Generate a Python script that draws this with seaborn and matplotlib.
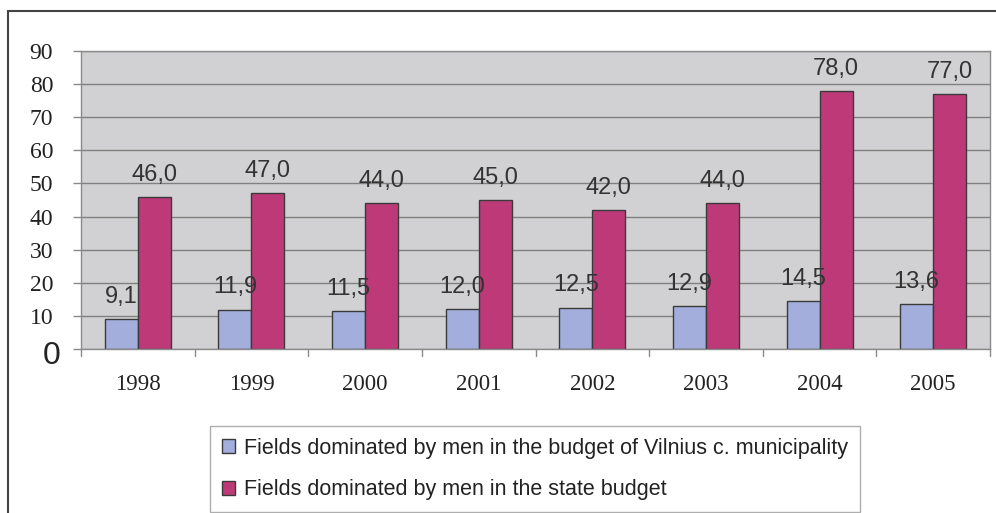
import matplotlib
matplotlib.use("Agg")
import matplotlib.pyplot as plt
import seaborn as sns
import pandas as pd
from matplotlib.patches import Rectangle

years = ["1998", "1999", "2000", "2001", "2002", "2003", "2004", "2005"]
municipal = [9.1, 11.9, 11.5, 12.0, 12.5, 12.9, 14.5, 13.6]
state = [46.0, 47.0, 44.0, 45.0, 42.0, 44.0, 78.0, 77.0]
series_names = [
    "Fields dominated by men in the budget of Vilnius c. municipality",
    "Fields dominated by men in the state budget",
]
y_ticks = [0, 10, 20, 30, 40, 50, 60, 70, 80, 90]

df = pd.DataFrame({
    "year": years * 2,
    "value": municipal + state,
    "series": [series_names[0]] * len(years) + [series_names[1]] * len(years),
})

sns.set_theme(style="white")
plt.rcParams["font.family"] = ["Liberation Sans", "DejaVu Sans"]

fig = plt.figure(figsize=(9.96, 5.13), dpi=100)
fig.patch.set_facecolor("white")
ax = fig.add_axes([81 / 996, 1 - 349 / 513, (990 - 81) / 996, (349 - 51) / 513])

colors = ["#A3AEDC", "#BE3978"]
sns.barplot(data=df, x="year", y="value", hue="series", order=years,
            hue_order=series_names, palette=colors, width=0.58,
            edgecolor="#3a3a3a", linewidth=1.0, saturation=1, ax=ax,
            legend=True)

ax.set_facecolor("#D1D1D3")
ax.set_ylim(0, 90)
ax.set_xlim(-0.5, len(years) - 0.5)
ax.set_yticks(y_ticks)
ax.yaxis.grid(True, color="#808080", linewidth=1.0)
ax.set_axisbelow(True)
ax.set_xlabel("")
ax.set_ylabel("")

for s in ax.spines.values():
    s.set_color("#8a8a8a")
    s.set_linewidth(1.0)

# y tick labels: serif numbers, larger sans zero
ax.set_yticklabels([""] + [str(v) for v in y_ticks[1:]],
                   fontfamily="Liberation Serif", fontsize=17, color="#222222")
ax.text(-0.023, -2.2, "0", transform=ax.get_yaxis_transform(), ha="right",
        va="center", fontsize=23, color="#222222", fontfamily="Liberation Sans",
        clip_on=False)
ax.tick_params(axis="y", length=6, width=1, color="#8a8a8a", pad=14, left=True)

# x tick labels at category centers, tick marks at boundaries
ax.set_xticks(range(len(years)))
ax.set_xticklabels(years, fontfamily="Liberation Serif", fontsize=16.5, color="#222222")
ax.tick_params(axis="x", length=0, pad=18)
for b in range(len(years) + 1):
    ax.plot([b - 0.5, b - 0.5], [0, -0.022], transform=ax.get_xaxis_transform(),
            color="#8a8a8a", lw=1, clip_on=False)

# value labels above bars
for container in ax.containers:
    ax.bar_label(container, labels=[f"{v:.1f}".replace(".", ",") for v in container.datavalues],
                 padding=8, fontsize=17, color="#333333")

# legend below the plot
handles, labels = ax.get_legend_handles_labels()
ax.get_legend().remove()
leg = fig.legend(handles, labels, loc="upper left",
                 bbox_to_anchor=(210 / 996, 1 - 426 / 513), ncol=1,
                 fontsize=15.5, frameon=True, fancybox=False, edgecolor="#9a9a9a",
                 handlelength=0.6, handleheight=0.6, handletextpad=0.45,
                 labelspacing=0.95, borderpad=0.55, borderaxespad=0,
                 labelcolor="#222222")
leg.get_frame().set_linewidth(1.0)

# outer chart frame
fig.patches.append(Rectangle((8 / 996, -0.1), 1.1, 1 - 11 / 513 + 0.1,
                             transform=fig.transFigure, fill=False,
                             edgecolor="#444444", linewidth=1.5))

fig.savefig("out.png", dpi=100)
